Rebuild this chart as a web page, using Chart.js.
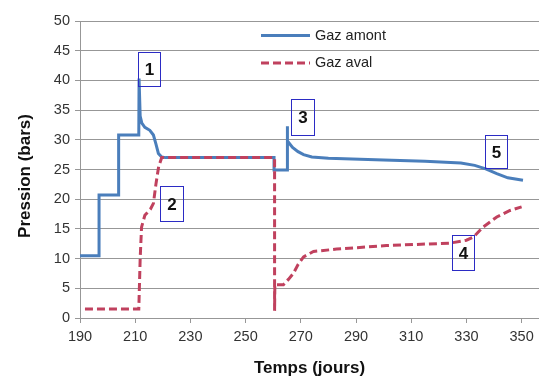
<!DOCTYPE html>
<html>
<head>
<meta charset="utf-8">
<script src="https://cdn.jsdelivr.net/npm/chart.js@4"></script>
<style>
  html, body { margin: 0; padding: 0; background: #fff; }
  #wrap { width: 539px; height: 377px; }
</style>
</head>
<body>
<div id="wrap"><canvas id="lineChart"></canvas></div>
<script>
// Gaz amont (jours / bars)
var amontDays = [190, 196.9, 196.9, 204, 204, 211.3, 211.4, 211.8, 212.4, 213.5, 215.3, 216.6, 217.5, 218.4, 219.6, 221, 260.3, 260.3, 265, 265, 265.3, 267, 269, 271, 274, 280, 300, 315, 328, 333, 337, 341, 345, 350.5];
var amontPressure = [10.5, 10.5, 20.7, 20.7, 30.8, 30.8, 40.3, 34, 32.8, 32.1, 31.6, 30.8, 29.3, 27.7, 27.1, 27, 27, 24.9, 24.9, 32.3, 29.8, 28.7, 28, 27.5, 27.1, 26.9, 26.6, 26.4, 26.1, 25.7, 25.1, 24.3, 23.6, 23.2];

// Gaz aval
var avalDays = [191.8, 211.3, 211.8, 212.3, 213.5, 215.5, 216.6, 217.5, 218.5, 219.6, 260.5, 260.5, 260.6, 263.7, 265.5, 267.3, 269, 271, 274.6, 283, 301, 324, 330, 332.5, 336, 341, 345.8, 350];
var avalPressure = [1.5, 1.5, 10, 15.3, 17.3, 18.3, 19.3, 22.5, 25.5, 27, 27, 1.2, 5.6, 5.6, 6.5, 7.5, 9, 10.3, 11.2, 11.6, 12.2, 12.6, 13.1, 13.6, 15.3, 17, 18.1, 18.7];

var xTicks = [190, 210, 230, 250, 270, 290, 310, 330, 350];
var seriesLabels = ["Gaz amont", "Gaz aval"];
var markLabels = ["1", "2", "3", "4", "5"];
var yTitle = "Pression (bars)";

var toPoints = function (xs, ys) {
    return xs.map(function (x, i) { return {x: x, y: ys[i]}; });
};

var blue = '#4a7ebb';
var red = '#c0415e';
var gridColor = '#979797';
var fontFamily = "'Liberation Sans', Arial, sans-serif";

// numbered boxes, in data units (x1, x2, yTop, yBottom)
var boxes = [
    [211, 219, 44.7, 39.0],
    [219, 227.3, 22.2, 16.3],
    [266.4, 274.8, 36.8, 30.8],
    [324.8, 332.8, 13.9, 8.0],
    [336.7, 344.7, 30.8, 25.2]
];

var extras = {
    id: 'extras',
    afterDatasetsDraw: function (chart) {
        var ctx = chart.ctx, xs = chart.scales.x, ys = chart.scales.y;
        ctx.save();
        // boites numerotees
        ctx.strokeStyle = '#2b2bc4';
        ctx.lineWidth = 1;
        ctx.font = 'bold 17px ' + fontFamily;
        ctx.fillStyle = '#111';
        ctx.textAlign = 'center';
        ctx.textBaseline = 'middle';
        boxes.forEach(function (b, i) {
            var x1 = Math.round(xs.getPixelForValue(b[0])) + 0.5;
            var x2 = Math.round(xs.getPixelForValue(b[1])) + 0.5;
            var y1 = Math.round(ys.getPixelForValue(b[2])) + 0.5;
            var y2 = Math.round(ys.getPixelForValue(b[3])) + 0.5;
            ctx.strokeRect(x1, y1, x2 - x1, y2 - y1);
            ctx.fillText(markLabels[i], (x1 + x2) / 2, (y1 + y2) / 2 + 1);
        });
        // legende
        var lx1 = 261, lx2 = 310, rows = [35.5, 63];
        ctx.lineWidth = 3;
        ctx.lineCap = 'butt';
        ctx.strokeStyle = blue;
        ctx.beginPath();
        ctx.moveTo(lx1, rows[0]); ctx.lineTo(lx2, rows[0]);
        ctx.stroke();
        ctx.strokeStyle = red;
        ctx.setLineDash([8, 4]);
        ctx.beginPath();
        ctx.moveTo(lx1, rows[1]); ctx.lineTo(lx2, rows[1]);
        ctx.stroke();
        ctx.setLineDash([]);
        ctx.font = '14.5px ' + fontFamily;
        ctx.fillStyle = '#222';
        ctx.textAlign = 'left';
        seriesLabels.forEach(function (t, i) {
            ctx.fillText(t, 315, rows[i]);
        });
        // titre de l'axe vertical
        ctx.translate(25, 176);
        ctx.rotate(-Math.PI / 2);
        ctx.font = 'bold 17px ' + fontFamily;
        ctx.fillStyle = '#111';
        ctx.textAlign = 'center';
        ctx.fillText(yTitle, 0, 0);
        ctx.restore();
    }
};

var lineData = {
    datasets: [
        {
            label: seriesLabels[0],
            data: toPoints(amontDays, amontPressure),
            borderColor: blue,
            borderWidth: 3,
            pointRadius: 0,
            tension: 0,
            order: 1
        },
        {
            label: seriesLabels[1],
            data: toPoints(avalDays, avalPressure),
            borderColor: red,
            borderWidth: 3,
            borderDash: [8, 4],
            pointRadius: 0,
            tension: 0,
            order: 0
        }
    ]
};

var lineOptions = {
    responsive: true,
    maintainAspectRatio: false,
    animation: false,
    layout: {padding: {top: 21, right: 0, left: 0, bottom: 0}},
    plugins: {legend: {display: false}, tooltip: {enabled: false}},
    scales: {
        x: {
            type: 'linear',
            min: 190,
            max: 356.3,
            afterBuildTicks: function (s) { s.ticks = xTicks.map(function (v) { return {value: v}; }); },
            afterFit: function (s) { s.height = 59; },
            grid: {drawOnChartArea: false, tickLength: 5, color: gridColor},
            border: {color: gridColor},
            ticks: {autoSkip: false, maxRotation: 0, padding: 5, color: '#333', font: {family: fontFamily, size: 14.5}},
            title: {display: true, text: 'Temps (jours)', color: '#111', padding: 0,
                    font: {family: fontFamily, size: 17, weight: 'bold', lineHeight: 1}}
        },
        y: {
            min: 0,
            max: 50,
            afterFit: function (s) { s.width = 80; },
            grid: {color: gridColor, tickLength: 5},
            border: {color: gridColor},
            ticks: {stepSize: 5, padding: 5, color: '#333', font: {family: fontFamily, size: 14.5}}
        }
    }
};

var ctx = document.getElementById("lineChart").getContext("2d");
new Chart(ctx, {type: 'line', data: lineData, options: lineOptions, plugins: [extras]});
</script>
</body>
</html>
